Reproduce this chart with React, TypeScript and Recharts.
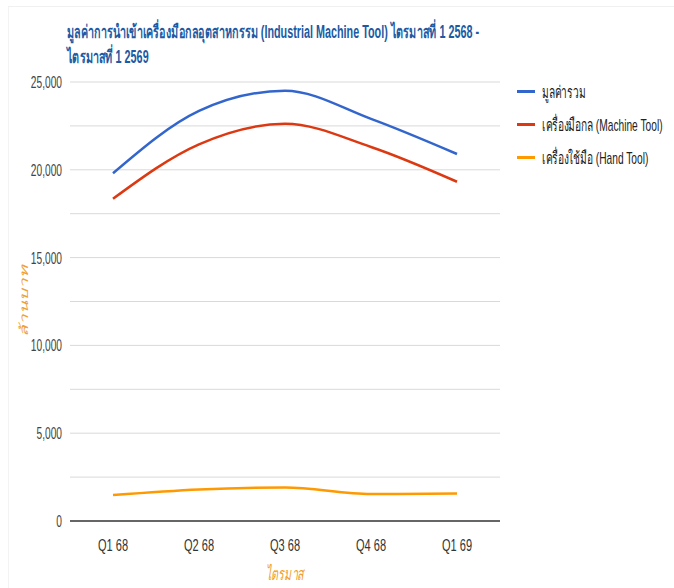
import React from 'react'
import { LineChart, Line, XAxis, YAxis, CartesianGrid, Legend, Label } from 'recharts'

document.body.style.margin = '0'

const quarters = ['Q1 68', 'Q2 68', 'Q3 68', 'Q4 68', 'Q1 69']
const totalValue = [19800, 23350, 24500, 22900, 20900]
const machineTool = [18350, 21450, 22620, 21300, 19320]
const handTool = [1480, 1800, 1910, 1540, 1560]
const yTicks = [0, 2500, 5000, 7500, 10000, 12500, 15000, 17500, 20000, 22500, 25000]

const titleLines = [
  'มูลค่าการนำเข้าเครื่องมือกลอุตสาหกรรม (Industrial Machine Tool) ไตรมาสที่ 1 2568 -',
  'ไตรมาสที่ 1 2569',
]

const data = quarters.map((q, i) => ({
  quarter: q,
  total: totalValue[i],
  machine: machineTool[i],
  hand: handTool[i],
}))

const FONT = "'Liberation Sans', Arial, sans-serif"
// the source picture is squeezed sideways, so text is drawn narrow
const SQ = 0.6

function fmt(v: number) {
  if (v % 5000 !== 0) return ''
  return v.toLocaleString('en-US')
}

function YTick({ x, y, payload }: any) {
  const t = fmt(payload.value)
  if (!t) return null
  return (
    <text transform={`translate(${x},${y}) scale(${SQ},1)`} textAnchor="end" dy={6} fontSize={17} fill="#444" fontFamily={FONT}>
      {t}
    </text>
  )
}

function XTick({ x, y, payload }: any) {
  return (
    <text transform={`translate(${x},${y}) scale(${SQ + 0.05},1)`} textAnchor="middle" dy={14} fontSize={17} fill="#333" fontFamily={FONT}>
      {payload.value}
    </text>
  )
}

function XTitle({ viewBox }: any) {
  const cx = viewBox.x + viewBox.width / 2
  return (
    <text transform={`translate(${cx},580) scale(${SQ},1)`} textAnchor="middle" fontSize={18} fontStyle="italic" fill="#f0a030" fontFamily={FONT}>
      ไตรมาส
    </text>
  )
}

function YTitle({ viewBox }: any) {
  const cy = viewBox.y + viewBox.height / 2
  return (
    <text transform={`translate(28,${cy}) scale(${SQ},1) rotate(-90)`} textAnchor="middle" fontSize={19} fontStyle="italic" fill="#f0a030" fontFamily={FONT}>
      ล้านบาท
    </text>
  )
}

function LegendBox({ payload }: any) {
  return (
    <div style={{ fontFamily: FONT, fontSize: 17, color: '#222' }}>
      {(payload || []).map((p: any) => (
        <div key={p.value} style={{ display: 'flex', alignItems: 'center', height: 33, whiteSpace: 'nowrap' }}>
          <span style={{ display: 'inline-block', width: 18, height: 3, background: p.color, marginRight: 7, flex: 'none' }} />
          <span style={{ display: 'inline-block', transform: `scaleX(${SQ})`, transformOrigin: 'left center' }}>{p.value}</span>
        </div>
      ))}
    </div>
  )
}

export default function App() {
  return (
    <div style={{ position: 'relative', width: 674, height: 588, background: '#fff', fontFamily: FONT, overflow: 'hidden' }}>
      <div style={{ position: 'absolute', left: 8, top: 6, right: 0, bottom: 0, borderTop: '1px solid #f0f0f0', borderLeft: '1px solid #f3f3f3' }} />
      <div
        style={{
          position: 'absolute',
          left: 67,
          top: 20,
          fontSize: 18,
          fontWeight: 'bold',
          color: '#1c5aa3',
          lineHeight: '25px',
          whiteSpace: 'nowrap',
          transform: `scaleX(${SQ})`,
          transformOrigin: 'left top',
        }}
      >
        {titleLines.map((t) => (
          <div key={t}>{t}</div>
        ))}
      </div>
      <LineChart width={674} height={588} data={data} margin={{ top: 82, right: 17, bottom: 37, left: 0 }}>
        <CartesianGrid vertical={false} stroke="#d9d9d9" />
        <XAxis
          dataKey="quarter"
          padding={{ left: 43, right: 43 }}
          tick={<XTick />}
          axisLine={{ stroke: '#666', strokeWidth: 2 }}
          tickLine={false}
          tickMargin={10}
          height={30}
        >
          <Label content={<XTitle />} />
        </XAxis>
        <YAxis
          domain={[0, 25000]}
          ticks={yTicks}
          interval={0}
          tick={<YTick />}
          axisLine={false}
          tickLine={false}
          width={70}
        >
          <Label content={<YTitle />} />
        </YAxis>
        <Legend
          layout="vertical"
          verticalAlign="top"
          align="right"
          content={<LegendBox />}
          wrapperStyle={{ left: 517, top: 75, width: 157 }}
        />
        <Line type="monotone" dataKey="total" name="มูลค่ารวม" stroke="#3366cc" strokeWidth={2.5} dot={false} isAnimationActive={false} />
        <Line type="monotone" dataKey="machine" name="เครื่องมือกล (Machine Tool)" stroke="#dc3912" strokeWidth={2.5} dot={false} isAnimationActive={false} />
        <Line type="monotone" dataKey="hand" name="เครื่องใช้มือ (Hand Tool)" stroke="#ff9900" strokeWidth={2.5} dot={false} isAnimationActive={false} />
      </LineChart>
    </div>
  )
}
